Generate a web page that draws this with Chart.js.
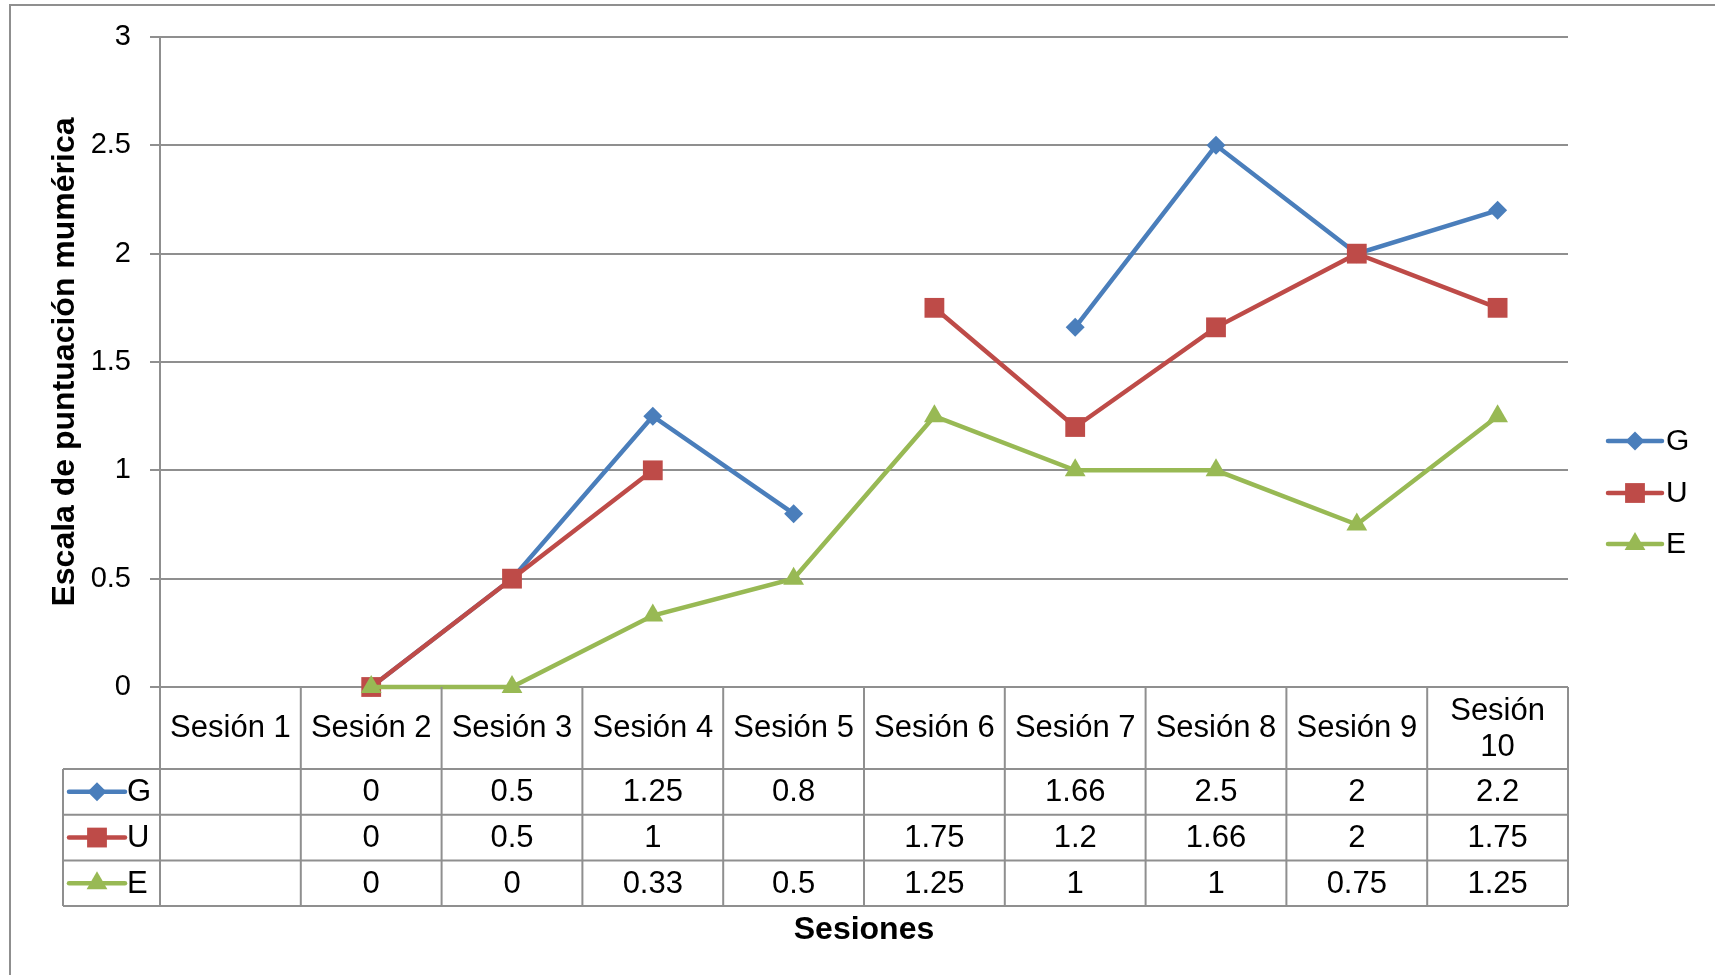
<!DOCTYPE html>
<html>
<head>
<meta charset="utf-8">
<script src="https://cdn.jsdelivr.net/npm/chart.js"></script>
<style>
  body { margin: 0; background: #fff; }
  #wrap { width: 1715px; height: 975px; position: relative; }
</style>
</head>
<body>
<div id="wrap"><canvas id="grafico"></canvas></div>
<script>
// datos
const sesiones = ['Sesión 1', 'Sesión 2', 'Sesión 3', 'Sesión 4', 'Sesión 5',
  'Sesión 6', 'Sesión 7', 'Sesión 8', 'Sesión 9', 'Sesión 10'];
const serieG = [null, 0, 0.5, 1.25, 0.8, null, 1.66, 2.5, 2, 2.2];
const serieU = [null, 0, 0.5, 1, null, 1.75, 1.2, 1.66, 2, 1.75];
const serieE = [null, 0, 0, 0.33, 0.5, 1.25, 1, 1, 0.75, 1.25];

const FUENTE = "'Liberation Sans', Arial, sans-serif";
const GRIS = '#8f8f8f';

const series = [
  { label: 'G', data: serieG, color: '#4a7ebb', style: 'rectRot', radius: 9.5, order: 2 },
  { label: 'U', data: serieU, color: '#be4b48', style: 'rect', radius: 14, order: 1 },
  { label: 'E', data: serieE, color: '#98b954', style: 'triangle', radius: 12, order: 0 },
];

const data = {
  labels: sesiones,
  datasets: series.map((s) => ({
    label: s.label,
    data: s.data,
    order: s.order,
    borderColor: s.color,
    backgroundColor: s.color,
    borderWidth: 4.5,
    pointStyle: s.style,
    pointRadius: s.radius,
    pointHoverRadius: s.radius,
    pointBorderWidth: 0,
    spanGaps: false,
    tension: 0,
    clip: false,
  })),
};

// linea + marcador (leyenda y tabla)
function muestra(ctx, s, x, y, largo) {
  ctx.save();
  ctx.strokeStyle = s.color;
  ctx.lineWidth = 4.5;
  ctx.lineCap = 'round';
  ctx.beginPath();
  ctx.moveTo(x - largo / 2, y);
  ctx.lineTo(x + largo / 2, y);
  ctx.stroke();
  ctx.fillStyle = s.color;
  ctx.strokeStyle = s.color;
  ctx.lineWidth = 0;
  Chart.helpers.drawPoint(ctx, { pointStyle: s.style, radius: s.radius, rotation: 0, borderWidth: 0 }, x, y);
  ctx.restore();
}

const tablaPlugin = {
  id: 'tabla',
  beforeDraw(chart) {
    const ctx = chart.ctx;
    ctx.save();
    ctx.strokeStyle = GRIS;
    ctx.lineWidth = 2;
    ctx.strokeRect(10, 5, 1800, 1100);
    ctx.restore();
  },
  afterDraw(chart) {
    const { ctx, chartArea: a } = chart;
    const n = sesiones.length;
    const colW = (a.right - a.left) / n;
    const cabTop = a.bottom;
    const cabBot = a.bottom + 82;
    const filaH = 45.7;
    const izq = 63;
    const fondo = cabBot + filaH * 3;

    ctx.save();
    ctx.strokeStyle = GRIS;
    ctx.lineWidth = 2;
    ctx.beginPath();
    // verticales
    for (let i = 0; i <= n; i++) {
      const x = a.left + i * colW;
      ctx.moveTo(x, cabTop);
      ctx.lineTo(x, fondo);
    }
    ctx.moveTo(izq, cabBot);
    ctx.lineTo(izq, fondo);
    // horizontales
    for (let r = 0; r <= 3; r++) {
      const y = cabBot + r * filaH;
      ctx.moveTo(izq, y);
      ctx.lineTo(a.right, y);
    }
    ctx.stroke();

    ctx.fillStyle = '#000';
    ctx.font = '31px ' + FUENTE;
    ctx.textAlign = 'center';
    ctx.textBaseline = 'middle';
    sesiones.forEach((s, i) => {
      const cx = a.left + (i + 0.5) * colW;
      if (ctx.measureText(s).width > colW - 8) {
        const partes = s.split(' ');
        ctx.fillText(partes[0], cx, (cabTop + cabBot) / 2 - 17);
        ctx.fillText(partes[1], cx, (cabTop + cabBot) / 2 + 19);
      } else {
        ctx.fillText(s, cx, (cabTop + cabBot) / 2);
      }
    });

    series.forEach((s, r) => {
      const cy = cabBot + (r + 0.5) * filaH;
      muestra(ctx, s, 97, cy, 56);
      ctx.fillStyle = '#000';
      ctx.font = '31px ' + FUENTE;
      ctx.textAlign = 'left';
      ctx.textBaseline = 'middle';
      ctx.fillText(s.label, 127, cy + 1);
      ctx.textAlign = 'center';
      s.data.forEach((v, i) => {
        if (v === null) return;
        ctx.fillText(String(v), a.left + (i + 0.5) * colW, cy + 1);
      });
    });

    // leyenda derecha
    const legY = [441, 493, 544];
    series.forEach((s, r) => {
      muestra(ctx, s, 1635, legY[r], 54);
      ctx.fillStyle = '#000';
      ctx.font = '30px ' + FUENTE;
      ctx.textAlign = 'left';
      ctx.textBaseline = 'middle';
      ctx.fillText(s.label, 1666, legY[r] + 1);
    });

    // titulo eje x
    ctx.font = 'bold 32px ' + FUENTE;
    ctx.textAlign = 'center';
    ctx.fillText('Sesiones', 864, 930);
    ctx.restore();
  },
};

const config = {
  type: 'line',
  data,
  options: {
    responsive: true,
    maintainAspectRatio: false,
    animation: false,
    layout: { padding: { left: 46, right: 147, top: 37, bottom: 288 } },
    plugins: {
      legend: { display: false },
      tooltip: { enabled: false },
    },
    scales: {
      x: {
        display: false,
        offset: true,
      },
      y: {
        min: 0,
        max: 3,
        afterFit: (scale) => { scale.width = 114; },
        ticks: {
          stepSize: 0.5,
          color: '#000',
          padding: 19,
          font: { family: FUENTE, size: 29 },
          callback: (v) => String(v),
        },
        grid: {
          color: GRIS,
          lineWidth: 2,
          tickLength: 10,
          drawTicks: true,
        },
        border: { display: true, color: GRIS, width: 2 },
        title: {
          display: true,
          text: 'Escala de puntuación mumérica',
          color: '#000',
          padding: 0,
          font: { family: FUENTE, size: 32, weight: 'bold' },
        },
      },
    },
  },
  plugins: [tablaPlugin],
};

const grafico = new Chart(document.getElementById('grafico'), config);
</script>
</body>
</html>
